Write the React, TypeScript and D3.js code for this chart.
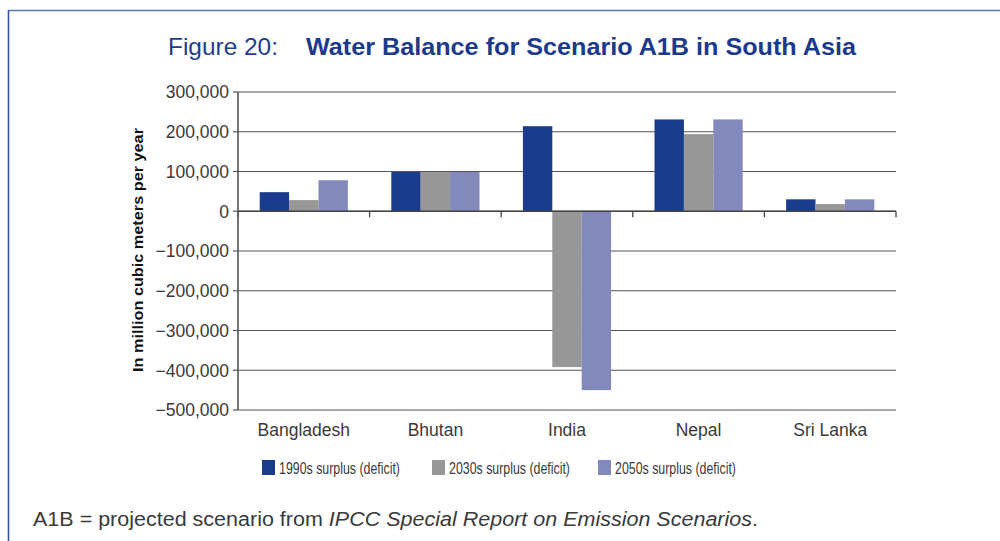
import React from "react";
import * as d3 from "d3";

const categories = ["Bangladesh", "Bhutan", "India", "Nepal", "Sri Lanka"];
const seriesNames = ["1990s surplus (deficit)", "2030s surplus (deficit)", "2050s surplus (deficit)"];
const values1990s = [48000, 99000, 214000, 231000, 30000];
const values2030s = [28000, 99000, -392000, 194000, 18000];
const values2050s = [78000, 99000, -450000, 231000, 30000];
const yTicks = [300000, 200000, 100000, 0, -100000, -200000, -300000, -400000, -500000];
const colors = ["#1b3b8d", "#979797", "#8489bb"];

const FONT = "'Liberation Sans', Arial, Helvetica, sans-serif";

export default function App() {
  const W = 1000, H = 541;
  const left = 238, right = 896, top = 92, bottom = 410;
  const series = [values1990s, values2030s, values2050s];

  const y = d3.scaleLinear().domain([-500000, 300000]).range([bottom, top]);
  const x0 = d3.scaleBand<string>().domain(categories).range([left, right]).paddingInner(0.33).paddingOuter(0.165);
  const x1 = d3.scaleBand<string>().domain(seriesNames).range([0, x0.bandwidth()]);
  const step = x0.step();
  const fmt = (v: number) => (v < 0 ? "\u2212" : "") + d3.format(",")(Math.abs(v));
  const y0 = y(0);

  const legendX = [262, 432, 598];

  return (
    <svg width={W} height={H} style={{ position: "absolute", left: 0, top: 0, background: "#fff" }} fontFamily={FONT}>
      {/* frame */}
      <line x1={8.5} y1={10.5} x2={1000} y2={10.5} stroke="#5a74b6" strokeWidth={1.6} />
      <line x1={8.5} y1={10} x2={8.5} y2={541} stroke="#3552a4" strokeWidth={1.6} />

      {/* title */}
      <text x={168} y={55} fontSize={24} fill="#1f3d8f" textLength={110} lengthAdjust="spacingAndGlyphs">Figure 20:</text>
      <text x={306} y={55} fontSize={24} fontWeight="bold" fill="#1b3a8c" textLength={550} lengthAdjust="spacingAndGlyphs">
        Water Balance for Scenario A1B in South Asia
      </text>

      {/* gridlines */}
      {yTicks.map((t) => (
        <g key={t}>
          <line x1={left} x2={right} y1={y(t)} y2={y(t)} stroke="#555" strokeWidth={1.2} />
          <line x1={left - 5} x2={left} y1={y(t)} y2={y(t)} stroke="#555" strokeWidth={1.2} />
          <text x={229} y={y(t)} dy="0.36em" textAnchor="end" fontSize={17.5} fill="#3a3a3a">{fmt(t)}</text>
        </g>
      ))}

      {/* bars */}
      {categories.map((c, i) => (
        <g key={c} transform={`translate(${x0(c)},0)`}>
          {series.map((s, j) => {
            const v = s[i];
            return (
              <rect key={j} x={x1(seriesNames[j])} width={x1.bandwidth()}
                y={Math.min(y(v), y0)} height={Math.abs(y(v) - y0)} fill={colors[j]} />
            );
          })}
        </g>
      ))}

      {/* zero line and axis */}
      <line x1={left} x2={right} y1={y0} y2={y0} stroke="#444" strokeWidth={1.4} />
      {d3.range(categories.length + 1).map((k) => (
        <line key={k} x1={left + k * step} x2={left + k * step} y1={y0} y2={y0 + 6} stroke="#444" strokeWidth={1.3} />
      ))}
      <line x1={left} x2={left} y1={top} y2={bottom} stroke="#555" strokeWidth={1.6} />

      {/* category labels */}
      {categories.map((c) => (
        <text key={c} x={(x0(c) as number) + x0.bandwidth() / 2} y={436} textAnchor="middle" fontSize={17.5} fill="#3a3a3a">{c}</text>
      ))}

      {/* y label */}
      <text transform={`translate(143,250) rotate(-90)`} textAnchor="middle" fontSize={15} fontWeight="bold" fill="#111"
        textLength={244} lengthAdjust="spacingAndGlyphs">
        In million cubic meters per year
      </text>

      {/* legend */}
      {seriesNames.map((s, j) => (
        <g key={s}>
          <rect x={legendX[j]} y={460} width={13} height={15} fill={colors[j]} />
          <text x={legendX[j] + 17} y={473.5} fontSize={17} fill="#3a3a3a" textLength={121} lengthAdjust="spacingAndGlyphs">{s}</text>
        </g>
      ))}

      {/* footnote */}
      <text x={33} y={526} fontSize={19.5} fill="#3a3a3a" textLength={725} lengthAdjust="spacingAndGlyphs">
        A1B = projected scenario from <tspan fontStyle="italic">IPCC Special Report on Emission Scenarios</tspan>.
      </text>
    </svg>
  );
}
